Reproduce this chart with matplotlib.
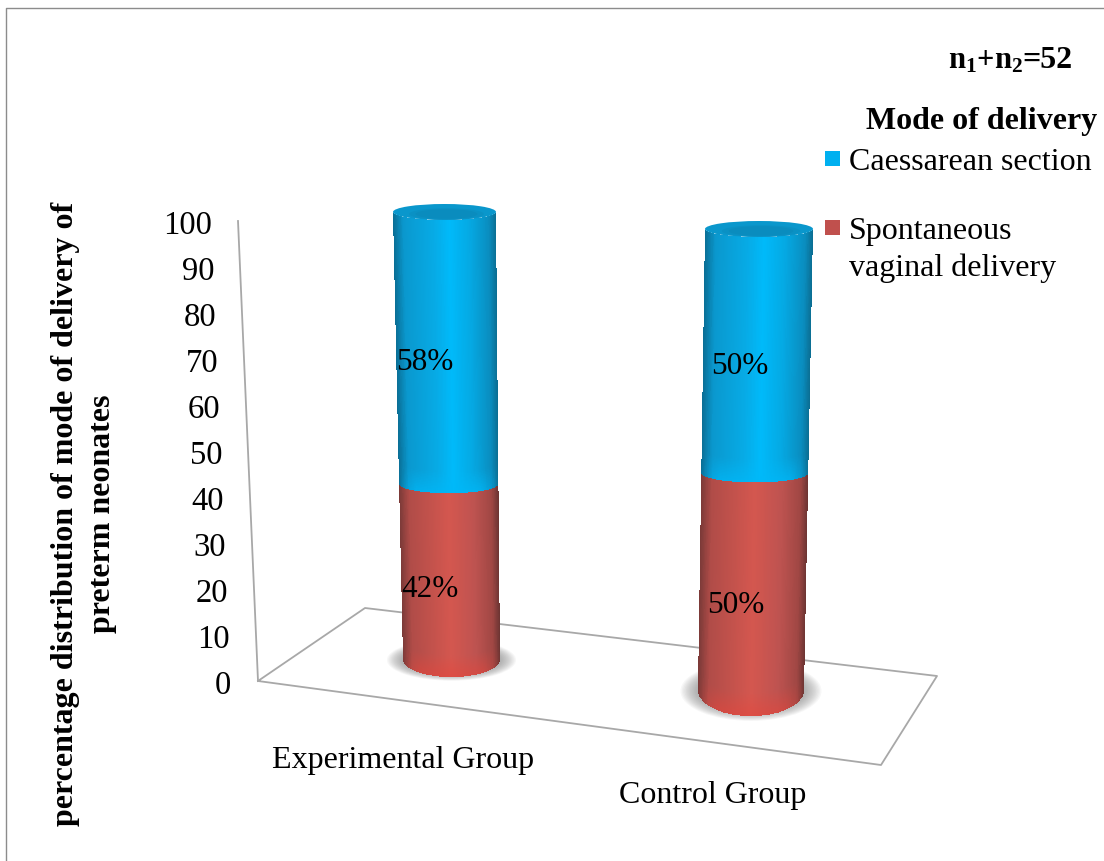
import numpy as np
import matplotlib
matplotlib.use('Agg')
import matplotlib.pyplot as plt
from matplotlib.colors import LinearSegmentedColormap, to_rgb
from matplotlib.patches import Ellipse, Rectangle

plt.rcParams['font.family'] = ['Liberation Serif', 'DejaVu Serif']
plt.rcParams['mathtext.fontset'] = 'custom'
plt.rcParams['mathtext.rm'] = 'Liberation Serif'
plt.rcParams['mathtext.bf'] = 'Liberation Serif:bold'

groups = ['Experimental Group', 'Control Group']
spontaneous = [42, 50]
caesarean = [58, 50]
yticks = [0, 10, 20, 30, 40, 50, 60, 70, 80, 90, 100]
legend_names = ['Caessarean section', 'Spontaneous\nvaginal delivery']

cmapBlue = LinearSegmentedColormap.from_list('cyl_blue', [
    (0, '#0A6F96'), (.10, '#0A98CE'), (.4, '#07ABE6'), (.55, '#00BAFA'),
    (.75, '#05A8E2'), (.93, '#0A8DBF'), (1, '#0B6F94')])
cmapRed = LinearSegmentedColormap.from_list('cyl_red', [
    (0, '#7C3A38'), (.10, '#B04C48'), (.5, '#D4574F'), (.75, '#BE5350'),
    (.93, '#A04744'), (1, '#6E3533')])

# cylinder outline at the base and the top, one entry per group (pixels)
base_x = [451.5, 751]
base_y = [660, 691]
base_rx = [48.5, 53]
base_ry = [18, 26]
top_x = [444.5, 759]
top_y = [213, 230]
top_rx = [51.5, 54]
top_ry = [8, 8]
PERSP = 0.11


def project(i, v):
    # perspective position of value v on cylinder i
    t = np.asarray(v, dtype=float) / 100.0
    f = t * (1 - PERSP) / (1 - PERSP * t)
    cx = base_x[i] + (top_x[i] - base_x[i]) * f
    cy = base_y[i] + (top_y[i] - base_y[i]) * f
    rx = base_rx[i] + (top_rx[i] - base_rx[i]) * f
    ry = top_ry[i] + (base_ry[i] - top_ry[i]) * (1 - f) ** 4
    return cx, cy, rx, ry


def drawSegment(ax, i, v0, v1, cmap, glow, glowAmt, z=4):
    # front half of the cylinder wall, lit across and brightened near its lower rim
    th = np.linspace(np.pi, 0, 121)
    vv = np.linspace(v0, v1, 161)
    cx, cy, rx, ry = project(i, vv)
    X = cx[:, None] + rx[:, None] * np.cos(th)[None, :]
    Y = cy[:, None] + ry[:, None] * np.sin(th)[None, :]
    s = (1 + np.cos(0.5 * (th[:-1] + th[1:]))) / 2
    vm = 0.5 * (vv[:-1] + vv[1:])
    rgb = cmap(s)[:, :3]
    rgb = np.tile(rgb[None, :, :], (len(vm), 1, 1))
    fade = np.clip(1 - (vm - v0) / 5.0, 0, 1)[:, None] * np.clip(np.minimum(s, 1 - s) / 0.18, 0, 1)[None, :]
    w = (fade * glowAmt)[:, :, None]
    rgb = rgb * (1 - w) + np.array(to_rgb(glow))[None, None, :] * w
    ax.pcolormesh(X, Y, rgb, shading='flat', antialiased=False, linewidth=0, zorder=z)


fig = plt.figure(figsize=(11.04, 8.62), dpi=100)
ax = fig.add_axes([0, 0, 1, 1])
ax.set_xlim(0, 1104)
ax.set_ylim(862, 0)
ax.axis('off')

# outer frame, top and left only
ax.plot([6, 6, 1104], [862, 9, 9], color='#8C8C8C', lw=1.0, zorder=1)

# floor and back wall
gridc = '#A8A8A8'
ax.plot([258, 365, 937, 881, 258, 258], [682, 609, 677, 766, 682, 682], color=gridc, lw=1.3, zorder=1)
ax.plot([238, 258], [222, 682], color=gridc, lw=1.3, zorder=1)

# value axis labels follow the slanted wall edge
for v in yticks:
    ax.text(231.5 - v * 0.19, 686 - v * 4.6, str(v), ha='right', va='center', fontsize=23.5, color='black')

# soft shadows under the cylinders, then the stacked segments
for i in range(len(groups)):
    cx, cy, rx, ry = project(i, 0)
    for k in np.linspace(1.33, 1.0, 14):
        ax.add_patch(Ellipse((cx, cy + 1), 2 * rx * k, 2 * ry * (0.8 + 0.35 * (k - 1) / 0.33),
                             fc='#7A7A7A', ec='none', alpha=0.06, zorder=2))
    drawSegment(ax, i, 0, spontaneous[i], cmapRed, '#E4453B', 0.55)
    drawSegment(ax, i, spontaneous[i], spontaneous[i] + caesarean[i], cmapBlue, '#00B8F8', 0.7)
    cx, cy, rx, ry = project(i, spontaneous[i] + caesarean[i])
    ax.add_patch(Ellipse((cx, cy), 2 * rx, 2 * ry, fc='#0A97CC', ec='none', zorder=5))
    ax.add_patch(Ellipse((cx + 2, cy + 2), 1.45 * rx, 1.45 * ry, fc='#0A91C4', ec='none', zorder=5))
    ax.add_patch(Ellipse((cx + 2, cy + 2), 1.2 * rx, 1.2 * ry, fc='#0A8CBE', ec='none', zorder=5))

# value labels
label_x = [[430, 425], [736, 740]]
label_y = [[590, 363], [606, 367]]
for i in range(len(groups)):
    ax.text(label_x[i][0], label_y[i][0], '%d%%' % spontaneous[i], ha='center', va='center',
            fontsize=22.5, color='black', zorder=6)
    ax.text(label_x[i][1], label_y[i][1], '%d%%' % caesarean[i], ha='center', va='center',
            fontsize=22.5, color='black', zorder=6)

# group labels
ax.text(403, 761, groups[0], ha='center', va='center', fontsize=23, color='black')
ax.text(713, 796, groups[1], ha='center', va='center', fontsize=23, color='black')

# rotated axis title
ax.text(84, 514, 'percentage distribution of mode of delivery of\npreterm neonates',
        rotation=90, ha='center', va='center', ma='center', fontsize=23, fontweight='bold',
        linespacing=1.33)

# legend block
ax.text(1023, 61, r'$\mathbf{n_1{+}n_2}$', ha='right', va='center', fontsize=22, color='black')
ax.text(1073, 61, '=52', ha='right', va='center', fontsize=23, fontweight='bold', color='black')
ax.text(1097, 122, 'Mode of delivery', ha='right', va='center', fontsize=23, fontweight='bold')
ax.add_patch(Rectangle((825, 152), 15, 15, fc='#00B0F0', ec='none'))
ax.add_patch(Rectangle((825, 221), 15, 15, fc='#C0504D', ec='none'))
ax.text(849, 162, legend_names[0], ha='left', va='center', fontsize=23)
ax.text(849, 250, legend_names[1], ha='left', va='center', fontsize=23, linespacing=1.37)

fig.savefig('out.png', dpi=100)
